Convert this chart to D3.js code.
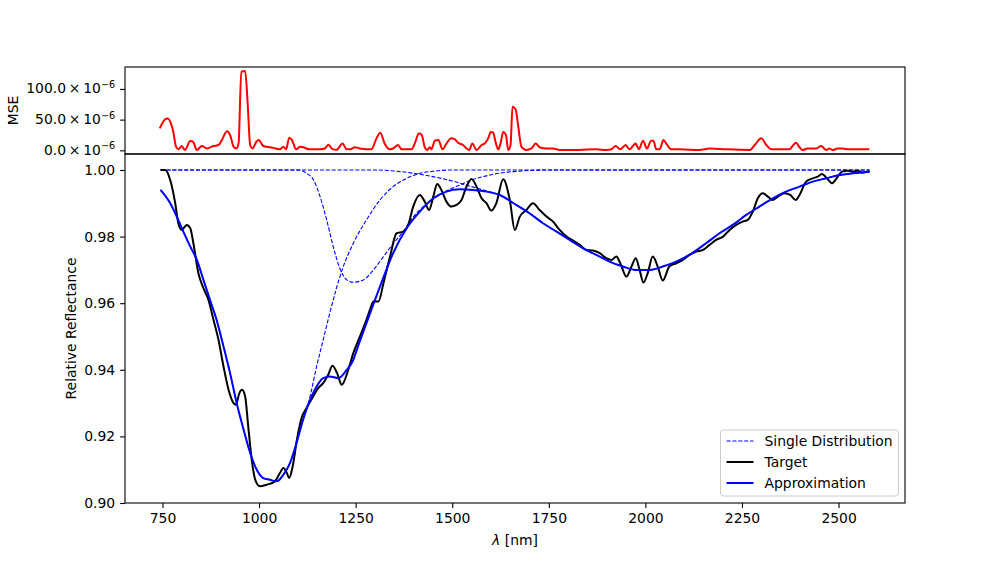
<!DOCTYPE html>
<html>
<head>
<meta charset="utf-8">
<script src="https://cdn.jsdelivr.net/npm/d3@7"></script>
<style>
body { margin: 0; background: #fff; }
svg { font-family: "DejaVu Sans", sans-serif; }
</style>
</head>
<body>
<div id="placeholder"></div>
<script>
// values
var targetNm = [745, 757, 770, 783, 791, 800, 813, 822, 830, 843, 856, 869, 882, 895, 908, 921, 934, 940, 949, 956, 964, 972, 981, 990, 1002, 1020, 1041, 1054, 1063, 1072, 1078, 1087, 1098, 1110, 1123, 1140, 1153, 1166, 1179, 1190, 1202, 1214, 1231, 1244, 1261, 1278, 1290, 1296, 1309, 1322, 1339, 1356, 1373, 1386, 1399, 1416, 1429, 1440, 1451, 1461, 1472, 1485, 1498, 1511, 1524, 1537, 1550, 1563, 1576, 1589, 1601, 1614, 1632, 1649, 1662, 1675, 1692, 1709, 1726, 1744, 1761, 1778, 1796, 1813, 1830, 1847, 1864, 1882, 1899, 1912, 1925, 1935, 1951, 1964, 1975, 1985, 1995, 2006, 2019, 2032, 2045, 2062, 2080, 2097, 2114, 2132, 2149, 2166, 2183, 2201, 2218, 2235, 2252, 2265, 2278, 2291, 2304, 2317, 2330, 2343, 2360, 2375, 2389, 2399, 2416, 2433, 2446, 2457, 2472, 2483, 2493, 2509, 2524, 2537, 2549, 2562, 2575, 2580]
var targetVal = [1.000, 1.000, 0.997, 0.990, 0.984, 0.982, 0.9835, 0.9825, 0.978, 0.969, 0.9645, 0.961, 0.955, 0.949, 0.941, 0.934, 0.930, 0.9295, 0.933, 0.934, 0.932, 0.923, 0.913, 0.907, 0.905, 0.9055, 0.9065, 0.909, 0.9105, 0.909, 0.9075, 0.911, 0.919, 0.9255, 0.9285, 0.932, 0.9345, 0.936, 0.9385, 0.9412, 0.939, 0.9355, 0.940, 0.945, 0.950, 0.955, 0.959, 0.9605, 0.9605, 0.966, 0.974, 0.981, 0.9815, 0.9835, 0.989, 0.9925, 0.9905, 0.988, 0.992, 0.9958, 0.994, 0.9905, 0.989, 0.9895, 0.991, 0.995, 0.9973, 0.995, 0.9915, 0.990, 0.9878, 0.990, 0.9972, 0.991, 0.982, 0.986, 0.988, 0.990, 0.988, 0.986, 0.9845, 0.982, 0.980, 0.9788, 0.9775, 0.976, 0.9758, 0.975, 0.9735, 0.973, 0.974, 0.972, 0.968, 0.971, 0.9735, 0.970, 0.9662, 0.969, 0.974, 0.971, 0.9668, 0.971, 0.972, 0.973, 0.9745, 0.9755, 0.976, 0.9775, 0.979, 0.980, 0.982, 0.9835, 0.9845, 0.985, 0.9875, 0.9915, 0.993, 0.992, 0.991, 0.992, 0.993, 0.9925, 0.991, 0.9925, 0.9965, 0.9975, 0.998, 0.9988, 0.9972, 0.996, 0.9972, 0.9995, 0.9998, 0.9995, 0.9998, 0.9992, 0.9995, 0.9997]

var approxNm = [745, 770, 787, 804, 822, 839, 856, 873, 890, 908, 925, 942, 960, 977, 994, 1011, 1028, 1046, 1063, 1080, 1097, 1114, 1132, 1149, 1166, 1183, 1205, 1227, 1244, 1253, 1278, 1313, 1347, 1382, 1416, 1451, 1485, 1520, 1554, 1589, 1623, 1666, 1700, 1735, 1770, 1804, 1838, 1873, 1907, 1942, 1976, 2011, 2045, 2080, 2114, 2157, 2192, 2226, 2261, 2295, 2330, 2364, 2399, 2433, 2468, 2503, 2537, 2580]
var approxVal = [0.994, 0.990, 0.986, 0.9815, 0.977, 0.973, 0.967, 0.961, 0.955, 0.947, 0.939, 0.930, 0.922, 0.915, 0.910, 0.9075, 0.907, 0.9065, 0.9085, 0.912, 0.918, 0.925, 0.931, 0.935, 0.9375, 0.938, 0.9375, 0.940, 0.943, 0.946, 0.954, 0.965, 0.975, 0.9825, 0.9875, 0.9915, 0.9935, 0.9942, 0.994, 0.9935, 0.9925, 0.9895, 0.987, 0.984, 0.9815, 0.979, 0.9765, 0.9745, 0.9725, 0.971, 0.970, 0.970, 0.971, 0.9725, 0.9745, 0.978, 0.981, 0.9835, 0.9865, 0.989, 0.9915, 0.9935, 0.995, 0.9965, 0.9975, 0.9985, 0.999, 0.9995]

var dist1Nm = [745, 770, 787, 804, 822, 839, 856, 873, 890, 908, 925, 942, 960, 977, 994, 1011, 1028, 1046, 1063, 1080, 1097, 1114, 1132, 1149, 1166, 1183, 1215, 1244, 1278, 1313, 1347, 1382, 1416, 1450, 1500, 2580]
var dist1Val = [0.994, 0.990, 0.986, 0.9815, 0.977, 0.973, 0.967, 0.961, 0.955, 0.947, 0.939, 0.930, 0.922, 0.915, 0.910, 0.9075, 0.907, 0.9065, 0.9085, 0.912, 0.918, 0.925, 0.932, 0.941, 0.949, 0.957, 0.970, 0.978, 0.985, 0.991, 0.995, 0.9975, 0.999, 0.9996, 1.0, 1.0]

var dist2Nm = [745, 1100, 1123, 1141, 1158, 1175, 1192, 1209, 1227, 1244, 1270, 1296, 1322, 1348, 1373, 1400, 1430, 1460, 1490, 1520, 1550, 1580, 1620, 1680, 1750, 2580]
var dist2Val = [1.0, 1.0, 0.999, 0.997, 0.992, 0.985, 0.977, 0.9705, 0.967, 0.9663, 0.967, 0.970, 0.974, 0.978, 0.9815, 0.986, 0.9895, 0.992, 0.994, 0.9955, 0.997, 0.998, 0.999, 0.9997, 1.0, 1.0]

var dist3Nm = [745, 1300, 1350, 1400, 1450, 1500, 1550, 1589, 1623, 1666, 1700, 1735, 1770, 1804, 1838, 1873, 1907, 1942, 1976, 2011, 2045, 2080, 2114, 2157, 2192, 2226, 2261, 2295, 2330, 2364, 2399, 2433, 2468, 2503, 2537, 2580]
var dist3Val = [1.0, 1.0, 0.9997, 0.999, 0.998, 0.9967, 0.995, 0.9937, 0.9925, 0.9895, 0.987, 0.984, 0.9815, 0.979, 0.9765, 0.9745, 0.9725, 0.971, 0.970, 0.970, 0.971, 0.9725, 0.9745, 0.978, 0.981, 0.9835, 0.9865, 0.989, 0.9915, 0.9935, 0.995, 0.9965, 0.9975, 0.9985, 0.999, 0.9995]

// MSE in units of 1e-6
var mseNm = [743, 757, 763, 772, 778, 785, 791, 800, 808, 822, 829, 839, 852, 865, 882, 895, 904, 917, 925, 934, 941, 947, 954, 964, 970, 977, 983, 993, 999, 1011, 1037, 1054, 1063, 1070, 1078, 1085, 1096, 1106, 1114, 1131, 1157, 1170, 1180, 1190, 1201, 1216, 1227, 1235, 1248, 1261, 1291, 1304, 1314, 1325, 1339, 1347, 1360, 1369, 1395, 1403, 1414, 1421, 1429, 1435, 1442, 1446, 1455, 1464, 1475, 1485, 1498, 1507, 1515, 1528, 1537, 1544, 1552, 1563, 1576, 1584, 1593, 1600, 1606, 1612, 1619, 1625, 1632, 1639, 1645, 1651, 1656, 1664, 1671, 1679, 1692, 1705, 1716, 1726, 1744, 1761, 1778, 1804, 1873, 1899, 1912, 1923, 1935, 1949, 1959, 1970, 1975, 1983, 1994, 2004, 2015, 2021, 2028, 2037, 2047, 2054, 2067, 2088, 2140, 2166, 2209, 2270, 2283, 2300, 2313, 2326, 2373, 2381, 2390, 2399, 2407, 2420, 2442, 2455, 2468, 2476, 2485, 2498, 2509, 2528, 2549, 2580]
var mseVal = [35.8, 50.5, 52, 44, 30, 6, 1.6, 7, 0.5, 15, 14, 0.5, 7, 3, 7, 8.6, 17, 31, 25, 6, 3, 11, 128, 129, 82, 8.6, 3, 14, 17, 7, 4, 1.6, 6, 1.6, 20.5, 17, 1.6, 6, 5, 1.6, 1.6, 3, 9, 2, 1, 11, 1.6, 1.6, 5, 3, 1.6, 19.5, 28.7, 11, 1.6, 3, 8.6, 1.6, 1.6, 11, 27.7, 25, 5, 0.5, 5, 1.6, 15.6, 17, 1.6, 11, 19.5, 18, 12.4, 8.6, 3, 0.5, 11, 0.5, 8.6, 11, 19.5, 30, 28.7, 14, 1.6, 11, 30, 25, 0.5, 8.6, 71, 67, 38.5, 6, 0.5, 3, 11, 5, 3, 3, 0.5, 0.5, 1.6, 0.5, 1.6, 7, 1.6, 8.6, 1.6, 8.6, 11, 1.6, 15.6, 3, 15.6, 15.6, 1.6, 1.6, 17, 11, 1.6, 1.6, 0.5, 3, 1.6, 0.5, 8.6, 19.5, 8.6, 1.6, 1.6, 7, 12.4, 5, 0.5, 3, 3, 7, 0.5, 3, 0.5, 3, 3, 1.6, 1.6, 1.6]

var xTicks = [750, 1000, 1250, 1500, 1750, 2000, 2250, 2500]
var yTicks = [0.90, 0.92, 0.94, 0.96, 0.98, 1.00]
var mseTicks = [0, 50, 100]
var legendLabels = ["Single Distribution", "Target", "Approximation"]

var W = 1005, H = 565
var left = 125, right = 905, topM = 67, mid = 154, bottom = 503
var fs = 13.9

var svg = d3.select("#placeholder")
    .append("svg")
    .attr("width", W)
    .attr("height", H)

var x = d3.scaleLinear().domain([653, 2672]).range([left, right])
var y = d3.scaleLinear().domain([0.9, 1.0048]).range([bottom, mid])
var yM = d3.scaleLinear().domain([-6, 135.7]).range([mid, topM])

function zip(a, b) { return a.map(function (d, i) { return [d, b[i]] }) }

var lineMain = d3.line().x(function (d) { return x(d[0]) }).y(function (d) { return y(d[1]) })

// single distributions (dashed)
;[zip(dist1Nm, dist1Val), zip(dist2Nm, dist2Val), zip(dist3Nm, dist3Val)].forEach(function (s) {
    svg.append("path")
        .attr("d", lineMain.curve(d3.curveMonotoneX)(s))
        .attr("fill", "none")
        .attr("stroke", "#0000ff")
        .attr("stroke-width", 1.1)
        .attr("stroke-dasharray", "4.1,1.8")
})

svg.append("path")
    .attr("d", lineMain.curve(d3.curveMonotoneX)(zip(targetNm, targetVal)))
    .attr("fill", "none")
    .attr("stroke", "#000")
    .attr("stroke-width", 2)
    .attr("stroke-linejoin", "round")

svg.append("path")
    .attr("d", lineMain.curve(d3.curveMonotoneX)(zip(approxNm, approxVal)))
    .attr("fill", "none")
    .attr("stroke", "#0000ff")
    .attr("stroke-width", 2)
    .attr("stroke-linejoin", "round")

// MSE panel
var lineMse = d3.line().x(function (d) { return x(d[0]) }).y(function (d) { return yM(d[1]) }).curve(d3.curveMonotoneX)
svg.append("path")
    .attr("d", lineMse(zip(mseNm, mseVal)))
    .attr("fill", "none")
    .attr("stroke", "#ff0000")
    .attr("stroke-width", 2)
    .attr("stroke-linejoin", "round")

// frames
svg.append("rect").attr("x", left).attr("y", topM).attr("width", right - left).attr("height", mid - topM)
    .attr("fill", "none").attr("stroke", "#000").attr("stroke-width", 1.1)
svg.append("rect").attr("x", left).attr("y", mid).attr("width", right - left).attr("height", bottom - mid)
    .attr("fill", "none").attr("stroke", "#000").attr("stroke-width", 1.1)

// axes
var gx = svg.append("g")
    .attr("transform", "translate(0," + bottom + ")")
    .call(d3.axisBottom(x).tickValues(xTicks).tickFormat(d3.format("d")).tickSize(4.9).tickPadding(4.9))
var gy = svg.append("g")
    .attr("transform", "translate(" + left + ",0)")
    .call(d3.axisLeft(y).tickValues(yTicks).tickFormat(d3.format(".2f")).tickSize(4.9).tickPadding(4.9))
var gm = svg.append("g")
    .attr("transform", "translate(" + left + ",0)")
    .call(d3.axisLeft(yM).tickValues(mseTicks).tickFormat("").tickSize(4.9))

;[gx, gy, gm].forEach(function (g) {
    g.select(".domain").remove()
    g.selectAll(".tick line").attr("stroke", "#000").attr("stroke-width", 1.1)
    g.selectAll(".tick text").attr("font-family", "DejaVu Sans").attr("font-size", fs).attr("fill", "#000")
})

mseTicks.forEach(function (t) {
    var tx = svg.append("text")
        .attr("x", left - 9.8)
        .attr("y", yM(t))
        .attr("dy", "0.32em")
        .attr("text-anchor", "end")
        .attr("font-size", fs)
    tx.append("tspan").text(d3.format(".1f")(t) + "\u2009\u00d7\u200910")
    tx.append("tspan").attr("dy", -5.5).attr("font-size", 9.7).text("\u22126")
})

// axis labels
var xl = svg.append("text")
    .attr("x", (left + right) / 2)
    .attr("y", 545)
    .attr("text-anchor", "middle")
    .attr("font-size", fs)
xl.append("tspan").attr("font-style", "italic").text("\u03bb")
xl.append("tspan").text(" [nm]")

svg.append("text")
    .attr("transform", "translate(76," + (mid + bottom) / 2 + ") rotate(-90)")
    .attr("text-anchor", "middle")
    .attr("font-size", fs)
    .text("Relative Reflectance")

svg.append("text")
    .attr("transform", "translate(18," + (topM + mid) / 2 + ") rotate(-90)")
    .attr("text-anchor", "middle")
    .attr("font-size", fs)
    .text("MSE")

// legend
var lg = svg.append("g").attr("transform", "translate(720.5,430)")
lg.append("rect")
    .attr("width", 178).attr("height", 66)
    .attr("rx", 3).attr("ry", 3)
    .attr("fill", "#fff").attr("fill-opacity", 0.8)
    .attr("stroke", "#cccccc").attr("stroke-width", 1)
var legendStyle = [
    { color: "#0000ff", width: 1.1, dash: "4.1,1.8" },
    { color: "#000", width: 2, dash: null },
    { color: "#0000ff", width: 2, dash: null }
]
legendLabels.forEach(function (name, i) {
    var yy = 11 + i * 21
    lg.append("line")
        .attr("x1", 6).attr("x2", 33).attr("y1", yy).attr("y2", yy)
        .attr("stroke", legendStyle[i].color)
        .attr("stroke-width", legendStyle[i].width)
        .attr("stroke-dasharray", legendStyle[i].dash)
    lg.append("text")
        .attr("x", 44).attr("y", yy)
        .attr("dy", "0.35em")
        .attr("font-size", fs)
        .text(name)
})
</script>
</body>
</html>
